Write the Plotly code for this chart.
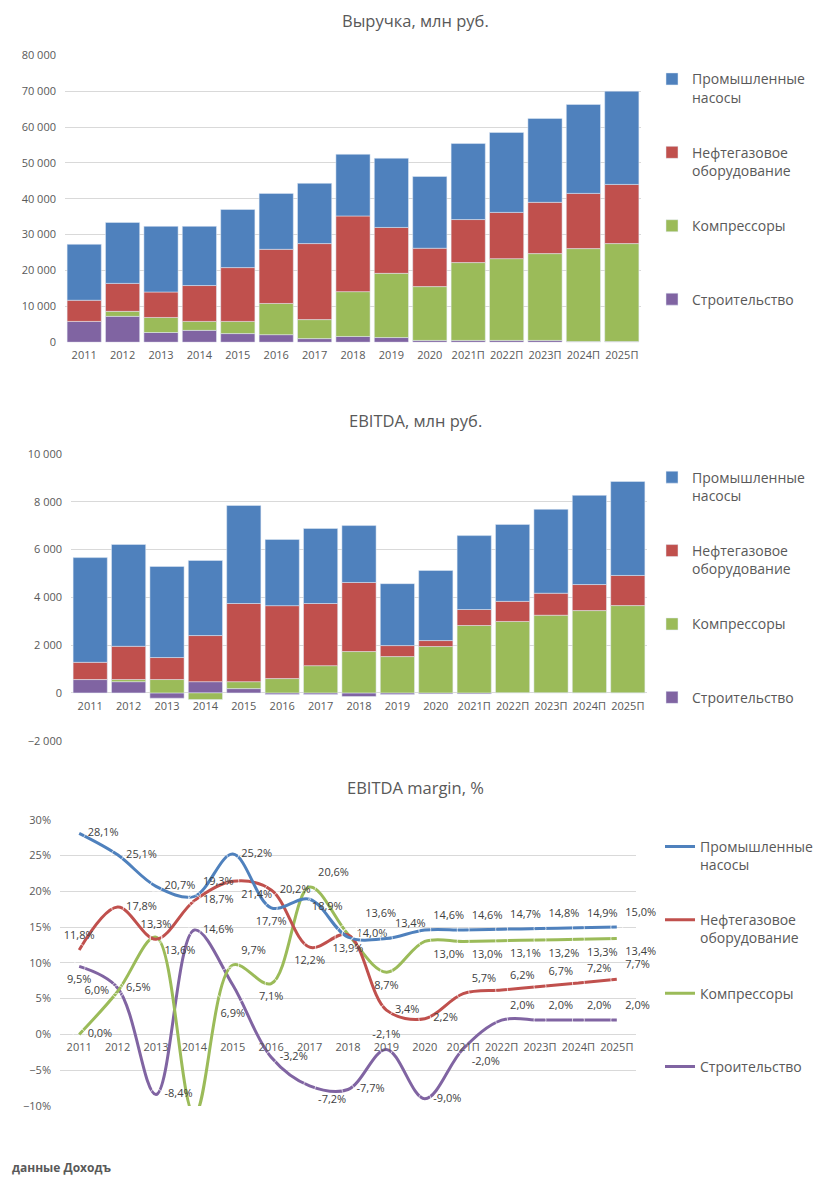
import plotly.graph_objects as go

W, H = 830, 1187

years = ["2011", "2012", "2013", "2014", "2015", "2016", "2017", "2018", "2019",
         "2020", "2021П", "2022П", "2023П", "2024П", "2025П"]

# legend labels (stacking order: first = bottom)
names = ["Строительство", "Компрессоры", "Нефтегазовое<br>оборудование", "Промышленные<br>насосы"]

# Revenue, mln RUB
rev_construction = [5800, 7200, 2700, 3300, 2400, 2100, 1000, 1600, 1300, 500, 500, 500, 500, 200, 200]
rev_compressors = [0, 1400, 4200, 2500, 3400, 8700, 5300, 12500, 17900, 15000, 21700, 22800, 24200, 25900, 27300]
rev_oilgas = [5900, 7800, 7100, 10000, 15000, 15100, 21200, 21100, 12800, 10700, 12000, 12900, 14300, 15400, 16500]
rev_pumps = [15600, 17000, 18300, 16500, 16200, 15600, 16800, 17200, 19300, 20000, 21200, 22300, 23400, 24800, 26000]

# EBITDA, mln RUB
ebitda_construction = [560, 470, -220, 470, 180, -70, -70, -150, -70, -40, -40, 10, 10, 4, 4]
ebitda_compressors = [0, 90, 560, -280, 290, 600, 1140, 1730, 1520, 1940, 2820, 2980, 3240, 3440, 3650]
ebitda_oilgas = [720, 1390, 920, 1930, 3270, 3050, 2600, 2890, 460, 250, 670, 840, 920, 1090, 1260]
ebitda_pumps = [4380, 4260, 3810, 3140, 4100, 2770, 3140, 2380, 2590, 2930, 3090, 3220, 3510, 3730, 3930]

# EBITDA margin, %
margin_pumps = [28.1, 25.1, 20.7, 19.3, 25.2, 17.7, 18.9, 13.6, 13.4, 14.6, 14.6, 14.7, 14.8, 14.9, 15.0]
margin_oilgas = [11.8, 17.8, 13.3, 18.7, 21.4, 20.2, 12.2, 13.9, 3.4, 2.2, 5.7, 6.2, 6.7, 7.2, 7.7]
margin_compressors = [0.0, 6.0, 13.6, -11.2, 9.7, 7.1, 20.6, 14.0, 8.7, 13.0, 13.0, 13.1, 13.2, 13.3, 13.4]
margin_construction = [9.5, 6.5, -8.4, 14.6, 6.9, -3.2, -7.2, -7.7, -2.1, -9.0, -2.0, 2.0, 2.0, 2.0, 2.0]
margin_hidden_labels = {"Компрессоры": [3]}  # label clipped outside the plot in the original

# ---- styling ----
colors = ["#8064A2", "#9BBB59", "#C0504D", "#4F81BD"]
FONT = "Open Sans"
TXT = "#595959"
GRID = "#D9D9D9"

pos_pumps = ["middle right", "middle right", "middle right", "top right", "middle right", "bottom center",
             "bottom right", "top right", "top right", "top right", "top right", "top right", "top right",
             "top right", "top right"]
pos_oilgas = ["top center", "middle right", "top center", "middle right", "bottom right", "middle right",
              "bottom center", "bottom center", "middle right", "middle right", "top right", "top right",
              "top right", "top right", "top right"]
pos_compressors = ["middle right", "middle left", "bottom right", "bottom center", "top right", "bottom center",
                   "top right", "middle right", "bottom center", "bottom right", "bottom right", "bottom right",
                   "bottom right", "bottom right", "bottom right"]
pos_construction = ["bottom center", "middle right", "middle right", "middle right", "bottom center", "middle right",
                    "bottom right", "middle right", "top center", "middle right", "bottom right", "top right",
                    "top right", "top right", "top right"]
# label distance from the point (invisible marker size); larger = label pulled further away
LBL = 12
dist_pumps = [LBL] * 6 + [2, 26] + [LBL] * 7
dist_oilgas = [LBL] * 15
dist_compressors = [LBL] * 15
dist_construction = [LBL] * 4 + [36] + [LBL] * 10

# calibration of page pixels -> paper fractions (as observed in the rendered page)
OX, SX = 8.0, 830.0
OY, SY = 15.7, 1171.3


def fy(y):
    return 1 - (y - OY) / SY


def fx(x):
    return (x - OX) / SX


# domains (pixel-derived)
d1x = [fx(65), fx(641)]
d1y = [fy(341.7), fy(55)]
d2x = [fx(71), fx(647)]
d2y = [fy(740), fy(453.3)]
d3x = [fx(60), fx(636)]
d3y = [fy(1105), fy(819)]

fig = go.Figure()

rev_series = [rev_construction, rev_compressors, rev_oilgas, rev_pumps]
ebitda_series = [ebitda_construction, ebitda_compressors, ebitda_oilgas, ebitda_pumps]
margin_series = [margin_construction, margin_compressors, margin_oilgas, margin_pumps]
positions = [pos_construction, pos_compressors, pos_oilgas, pos_pumps]
dists = [dist_construction, dist_compressors, dist_oilgas, dist_pumps]
legend_names = [n if "<br>" in n else n + "<br> " for n in names]
ranks = [40, 30, 20, 10]

for i, vals in enumerate(rev_series):
    fig.add_trace(go.Bar(x=years, y=vals, name=legend_names[i], marker_color=colors[i],
                         xaxis="x", yaxis="y", legend="legend", legendgroup="a%d" % i,
                         legendrank=ranks[i]))
for i, vals in enumerate(ebitda_series):
    fig.add_trace(go.Bar(x=years, y=vals, name=legend_names[i], marker_color=colors[i],
                         xaxis="x2", yaxis="y2", legend="legend2", legendgroup="b%d" % i,
                         legendrank=ranks[i]))
for i, vals in enumerate(margin_series):
    fig.add_trace(go.Scatter(x=years, y=vals, name=legend_names[i], mode="lines",
                             line=dict(color=colors[i], width=3, shape="spline", smoothing=1.0),
                             xaxis="x3", yaxis="y3", legend="legend3", legendgroup="c%d" % i,
                             legendrank=ranks[i]))
for i, (nm, vals) in enumerate(zip(names, margin_series)):
    hidden = margin_hidden_labels.get(nm, [])
    labels = ["" if k in hidden else (f"{v:.1f}".replace(".", ",") + "%") for k, v in enumerate(vals)]
    # invisible markers only serve to keep the labels a little away from the points
    fig.add_trace(go.Scatter(x=years, y=vals, mode="markers+text", text=labels, textposition=positions[i],
                             marker=dict(size=dists[i], color="rgba(0,0,0,0)"),
                             textfont=dict(family=FONT, size=11, color="#404040"),
                             showlegend=False, xaxis="x3", yaxis="y3", cliponaxis=False,
                             hoverinfo="skip"))

# x axis crosses at 0 on EBITDA & margin charts
zero3 = d3y[0] + (0 - (-10)) / 40 * (d3y[1] - d3y[0])
zero2 = d2y[0] + (0 - (-2000)) / 12000 * (d2y[1] - d2y[0])

tickf = dict(family=FONT, size=11, color=TXT)
common_x = dict(type="category", showgrid=False, showline=False, ticks="", tickfont=tickf,
                ticklabelstandoff=5, fixedrange=True, range=[-0.5, len(years) - 0.5])
common_y = dict(showgrid=True, gridcolor=GRID, gridwidth=1, zeroline=False, showline=False, ticks="",
                tickfont=tickf, ticklabelstandoff=8, fixedrange=True)

legend_common = dict(xanchor="left", yanchor="top", valign="top", bgcolor="rgba(0,0,0,0)",
                     font=dict(family=FONT, size=14, color=TXT), tracegroupgap=34,
                     traceorder="grouped", itemclick=False, itemdoubleclick=False)

fig.update_layout(
    width=W, height=H, margin=dict(l=0, r=0, t=0, b=0),
    paper_bgcolor="white", plot_bgcolor="white",
    separators=", ",
    barmode="relative", bargap=0.11,
    font=dict(family=FONT, color=TXT),
    xaxis=dict(domain=d1x, anchor="y", **common_x),
    yaxis=dict(domain=d1y, anchor="x", range=[0, 80000], dtick=10000, tickformat=",d", **common_y),
    xaxis2=dict(domain=d2x, anchor="free", position=zero2, **common_x),
    yaxis2=dict(domain=d2y, anchor="x2", range=[-2000, 10000], dtick=2000, tickformat=",d", **common_y),
    xaxis3=dict(domain=d3x, anchor="free", position=zero3, **common_x),
    yaxis3=dict(domain=d3y, anchor="x3", range=[-10, 30], dtick=5, ticksuffix="%", **common_y),
    legend=dict(x=fx(652), y=fy(63), **legend_common),
    legend2=dict(x=fx(652), y=fy(461), **legend_common),
    legend3=dict(x=fx(660), y=fy(830), **legend_common),
    showlegend=True,
)

title_font = dict(family=FONT, size=16.5, color=TXT)
for text, y in [("Выручка, млн руб.", 20), ("EBITDA, млн руб.", 420), ("EBITDA margin, %", 787)]:
    fig.add_annotation(text=text, x=fx(415), y=fy(y), xref="paper", yref="paper",
                       showarrow=False, font=title_font, xanchor="center", yanchor="middle")

fig.add_annotation(text="<b>данные Доходъ</b>", x=fx(10), y=fy(1167), xref="paper", yref="paper",
                   showarrow=False, font=dict(family=FONT, size=12, color=TXT),
                   xanchor="left", yanchor="middle")

fig.write_html("out.html")
